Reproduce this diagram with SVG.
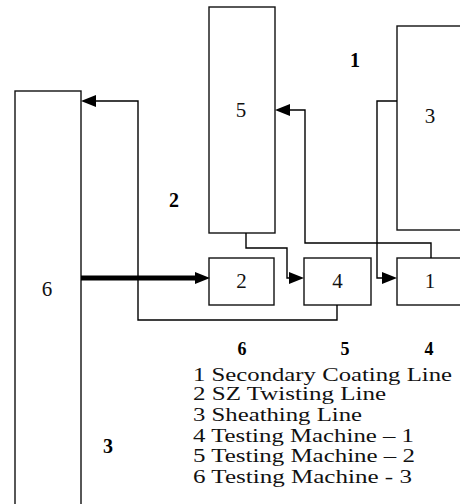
<svg xmlns="http://www.w3.org/2000/svg" width="460" height="504" viewBox="0 0 460 504">
<style>
.box{fill:#fff;stroke:#111;stroke-width:1.4}
.num{font-family:"Liberation Serif","Times New Roman",serif;font-size:21px;fill:#111;text-anchor:middle}
.bold{font-family:"Liberation Serif","Times New Roman",serif;font-size:20px;font-weight:bold;fill:#000;text-anchor:middle}
.leg{font-family:"Liberation Serif","Times New Roman",serif;font-size:18.5px;fill:#111}
.con{fill:none;stroke:#000;stroke-width:1.4}
.thick{fill:none;stroke:#000;stroke-width:5}
</style>
<defs>
<marker id="ah" markerUnits="userSpaceOnUse" markerWidth="15" markerHeight="12" refX="0" refY="6" orient="auto" overflow="visible">
<path d="M0,0 L15,6 L0,12 Z" fill="#000"/>
</marker>
</defs>
<rect width="460" height="504" fill="#fff"/>
<g id="node6"><rect class="box" x="15" y="91" width="66" height="420"/><text class="num" x="47" y="296">6</text></g>
<g id="node5"><rect class="box" x="209" y="7" width="66" height="226"/><text class="num" x="241" y="117">5</text></g>
<g id="node3"><rect class="box" x="397" y="26" width="75" height="204"/><text class="num" x="430" y="123">3</text></g>
<g id="node2"><rect class="box" x="209" y="258" width="65" height="47"/><text class="num" x="241.5" y="288">2</text></g>
<g id="node4"><rect class="box" x="304" y="258" width="67" height="47"/><text class="num" x="337.5" y="288">4</text></g>
<g id="node1"><rect class="box" x="397" y="258" width="75" height="47"/><text class="num" x="430" y="288">1</text></g>
<g id="connectors">
<path class="con" d="M337,305 V320 H138 V101 H96" marker-end="url(#ah)"/>
<path class="thick" d="M81,278 H195" marker-end="url(#ah)"/>
<path class="con" d="M246,233 V248 H287 V278 H289" marker-end="url(#ah)"/>
<path class="con" d="M431,258 V243 H305 V110 H290" marker-end="url(#ah)"/>
<path class="con" d="M397,101 H377 V278 H382" marker-end="url(#ah)"/>
</g>
<g id="labels">
<text class="bold" x="355" y="67">1</text>
<text class="bold" x="174" y="207">2</text>
<text class="bold" x="108" y="453">3</text>
<text class="bold" x="242" y="355" style="font-size:18px">6</text>
<text class="bold" x="345" y="355" style="font-size:18px">5</text>
<text class="bold" x="429" y="355" style="font-size:18px">4</text>
</g>
<g id="legend">
<text class="leg" x="193" y="381" textLength="259" lengthAdjust="spacingAndGlyphs">1 Secondary Coating Line</text>
<text class="leg" x="193" y="400" textLength="193" lengthAdjust="spacingAndGlyphs">2 SZ Twisting Line</text>
<text class="leg" x="193" y="421" textLength="169" lengthAdjust="spacingAndGlyphs">3 Sheathing Line</text>
<text class="leg" x="193" y="442" textLength="221" lengthAdjust="spacingAndGlyphs">4 Testing Machine – 1</text>
<text class="leg" x="193" y="462" textLength="222" lengthAdjust="spacingAndGlyphs">5 Testing Machine – 2</text>
<text class="leg" x="193" y="483" textLength="219" lengthAdjust="spacingAndGlyphs">6 Testing Machine - 3</text>
</g>
</svg>
